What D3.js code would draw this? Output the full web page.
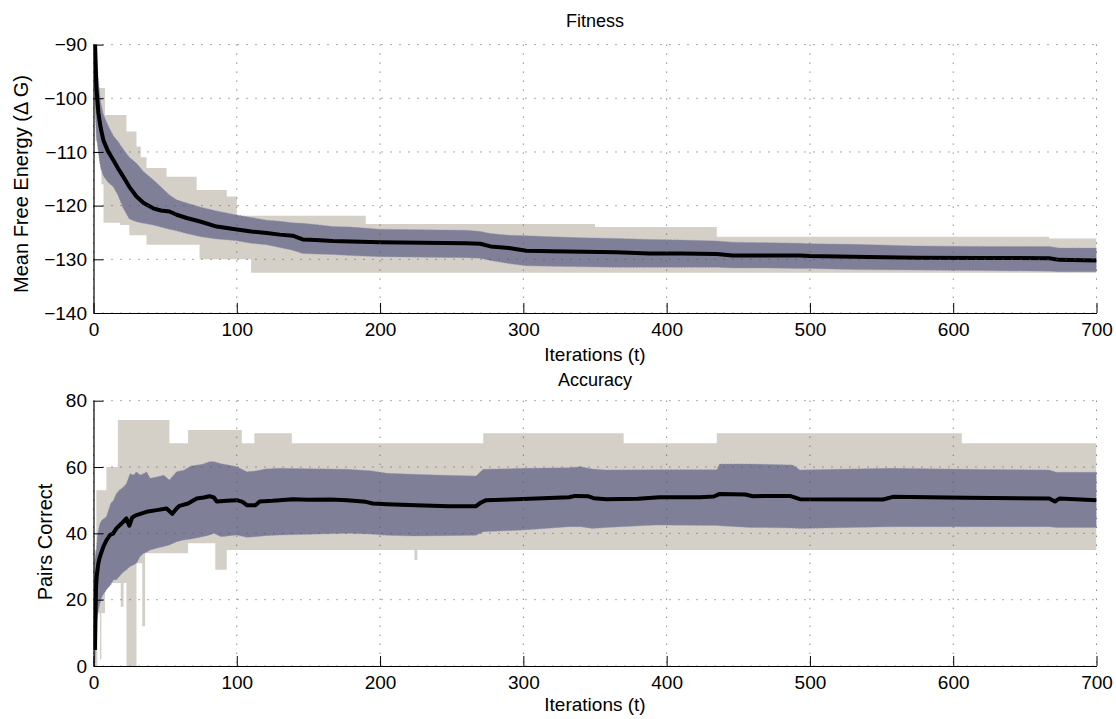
<!DOCTYPE html>
<html>
<head>
<meta charset="utf-8">
<script src="https://cdn.jsdelivr.net/npm/d3@7"></script>
<style>
  html, body { margin: 0; padding: 0; background: #fff; }
  svg { display: block; }
  text { font-family: "Liberation Sans", Arial, Helvetica, sans-serif; fill: #000; }
</style>
</head>
<body>
<svg id="chart" width="1116" height="719"></svg>
<script>
// ---------- Fitness (mean free energy) ----------
const fitIter = [1, 2, 3.4, 5, 6.9, 10, 13.8, 17, 20.8, 25, 30, 35, 41.7, 47, 53, 58, 65, 75, 86, 99,
  110, 121, 130, 139, 146, 155, 167, 180, 200, 230, 260, 270, 277, 290, 302, 320, 342, 365, 388, 410,
  435, 446, 470, 493, 500, 530, 574, 620, 667, 674, 700];
const fitMean = [-89, -98, -102.7, -105.5, -107.8, -109.8, -111.5, -113, -114.6, -116.5, -118.3, -119.5,
  -120.5, -120.9, -121.1, -121.7, -122.3, -123.0, -123.9, -124.4, -124.8, -125.1, -125.4, -125.6, -126.3,
  -126.4, -126.6, -126.7, -126.8, -126.9, -127.0, -127.1, -127.6, -127.9, -128.4, -128.5, -128.6, -128.7,
  -128.9, -128.9, -129.0, -129.3, -129.3, -129.3, -129.4, -129.5, -129.7, -129.75, -129.8, -130.1, -130.2];
const fitStdHi = [-89, -92, -96.6, -100.8, -103, -105, -107, -108, -109.5, -111, -112.1, -113.7, -115.2,
  -116.5, -118, -118.9, -119.5, -120.3, -121, -121.7, -122.2, -122.7, -122.9, -123.2, -123.3, -123.5,
  -123.9, -124.0, -124.4, -124.5, -124.6, -124.8, -125.2, -125.5, -125.6, -125.8, -126.0, -126.1, -126.3,
  -126.4, -126.6, -126.8, -126.9, -127.0, -127.1, -127.2, -127.5, -127.6, -127.6, -127.9, -127.9];
const fitStdLo = [-101, -107, -110, -113, -114.5, -115.6, -116.5, -118, -120.5, -122.5, -123, -123.3,
  -123.6, -124, -124.4, -124.7, -125.2, -125.8, -126.2, -126.5, -127, -127.3, -127.8, -128.3, -128.9,
  -129.0, -129.1, -129.3, -129.5, -129.6, -129.7, -129.8, -130.2, -130.8, -131.2, -131.3, -131.4, -131.5,
  -131.5, -131.5, -131.5, -131.6, -131.6, -131.7, -131.7, -131.9, -132.0, -132.1, -132.2, -132.3, -132.3];
// best / worst run envelopes (step changes)
const fitMaxIter = [1, 2.2, 8, 23, 30, 33, 37, 51, 72, 93, 100, 190, 350, 435, 667, 700];
const fitMax = [-89, -98.1, -103.1, -106.2, -109, -111, -113, -114.6, -117.1, -118.3, -121.9, -123.4,
  -124.0, -125.8, -126.1, -126.1];
const fitMinIter = [1, 1.5, 4, 5.5, 7, 18.5, 25, 37, 74, 110, 700];
const fitMin = [-100, -108, -112, -116, -123.2, -123.6, -125.5, -127.3, -130, -132.5, -132.5];

// ---------- Accuracy (pairs correct) ----------
const accIter = [1, 1.7, 2.2, 3.4, 4.5, 6.9, 9.2, 11.5, 13.8, 16, 20.8, 23, 25, 27, 30, 37, 44, 51, 55,
  58, 60, 66, 72, 77, 81, 84, 86, 93, 100, 104, 107, 113, 116, 125, 139, 150, 165, 177, 190, 195, 205,
  225, 248, 267, 270, 274, 295, 332, 336, 345, 349, 358, 380, 395, 423, 433, 437, 455, 460, 486, 493,
  551, 558, 609, 667, 671, 674, 689, 700];
const accMean = [4.8, 22.9, 26.9, 31, 33, 36, 38, 39.5, 40, 41.5, 43.5, 44.5, 42.3, 44.8, 45.5, 46.5,
  47, 47.5, 45.9, 47.5, 48.3, 49, 50.5, 50.8, 51.2, 50.8, 49.6, 49.8, 50, 49.5, 48.5, 48.5, 49.6, 49.8,
  50.3, 50.1, 50.2, 50, 49.5, 49, 48.8, 48.5, 48.2, 48.2, 49.2, 50, 50.3, 50.9, 51.3, 51.2, 50.6, 50.3,
  50.4, 50.9, 50.9, 51.1, 51.9, 51.7, 51.2, 51.3, 50.3, 50.2, 51.0, 50.7, 50.5, 49.6, 50.5, 50.2, 50];
const accStdIter = [0.5, 1, 2, 3, 4.5, 6, 9, 12, 14, 16, 18, 21, 23, 25.5, 28, 30, 32.5, 35, 37, 39.5,
  44, 49, 53, 58, 63, 68, 76, 81, 84, 89, 95, 100, 107, 113, 120, 130, 150, 177, 193, 205, 223, 245,
  267, 272, 300, 332, 340, 348, 358, 392, 435, 437, 458, 488, 493, 556, 609, 667, 672, 700];
const accStdHi = [25, 32, 35, 40, 43, 44, 45, 49, 50, 52, 53, 54, 55, 58, 57.6, 58.5, 57.6, 58, 58.6,
  56.6, 57, 57.5, 56.1, 58.6, 59, 60.3, 60.8, 61.6, 61.6, 61, 60.5, 60.1, 58.6, 58.8, 59.4, 59.6, 59.5,
  59.3, 58.9, 58.1, 57.8, 57.5, 57.3, 59.3, 59.6, 59.8, 60.1, 59.4, 59.1, 59.2, 59.2, 60.9, 60.9, 60.6,
  59.1, 59.6, 59.3, 59.1, 58.4, 58.4];
const accStdLo = [0, 0, 12.9, 16, 19, 21, 23, 24.5, 26, 26, 27, 28.4, 29, 30, 30.5, 31, 33, 34, 34.3,
  35, 35.5, 36, 36.5, 37.5, 38, 38.3, 39, 39.5, 40, 39, 39.3, 39.5, 38.8, 39, 39.3, 39.5, 39.7, 40, 39.8,
  39.4, 39.2, 39.3, 39.4, 40.5, 41, 42, 42, 41.5, 41.8, 42.5, 42.4, 42.3, 41.8, 41.6, 41.5, 42, 42, 42,
  41.8, 41.8];
const accMaxIter = [0.5, 2, 9, 17, 53, 66, 103.5, 112.3, 138.4, 272, 370, 435, 606, 700];
const accMax = [35, 53, 60, 74.2, 67.2, 71.2, 67.2, 70.2, 67.2, 70.2, 67.2, 70.2, 67.2, 67.2];
const accMinIter = [0.5, 2.7, 4.5, 5.5, 8, 19, 21, 23, 30, 34, 36, 66, 85, 93, 224, 226, 700];
const accMin = [0, 15.9, 2, 16, 25, 17.9, 25, 0, 31, 12, 34, 37, 29, 35, 32, 35, 35];

// ---------- axes ticks ----------
const xTicks = [0, 100, 200, 300, 400, 500, 600, 700];
const fitTicks = [-140, -130, -120, -110, -100, -90];
const accTicks = [0, 20, 40, 60, 80];

const svg = d3.select("#chart");
const GRAY = "#d4d0c8", BLUE = "#7f7f98";
const left = 93.5, right = 1096.5;

function zip(xs, ys) { return xs.map((x, i) => [x, ys[i]]); }

function panel(cfg) {
  const x = d3.scaleLinear().domain([0, 700]).range([left, right]);
  const y = d3.scaleLinear().domain(cfg.yDomain).range([cfg.bottom, cfg.top]);
  const g = svg.append("g");
  const clipId = "clip-" + cfg.id;
  svg.append("clipPath").attr("id", clipId).append("rect")
    .attr("x", left).attr("y", cfg.top).attr("width", right - left).attr("height", cfg.bottom - cfg.top);
  const plot = g.append("g").attr("clip-path", `url(#${clipId})`);

  // min/max envelope: build upper and lower step lines on a shared x grid
  const stepVal = (xs, ys, t) => { let v = ys[0]; for (let i = 0; i < xs.length; i++) if (xs[i] <= t) v = ys[i]; return v; };
  const envX = Array.from(new Set([...cfg.maxIter, ...cfg.minIter])).sort((a, b) => a - b);
  const envPts = [];
  envX.forEach((t, i) => {
    if (i > 0) envPts.push({ t, hi: stepVal(cfg.maxIter, cfg.max, envX[i - 1]), lo: stepVal(cfg.minIter, cfg.min, envX[i - 1]) });
    envPts.push({ t, hi: stepVal(cfg.maxIter, cfg.max, t), lo: stepVal(cfg.minIter, cfg.min, t) });
  });
  plot.append("path").datum(envPts)
    .attr("fill", GRAY)
    .attr("d", d3.area().x(d => x(d.t)).y0(d => y(d.lo)).y1(d => y(d.hi)));

  // standard deviation band
  const band = cfg.stdIter.map((t, i) => ({ t, hi: cfg.stdHi[i], lo: cfg.stdLo[i] }));
  plot.append("path").datum(band)
    .attr("fill", BLUE)
    .attr("stroke", "#9292aa").attr("stroke-width", 0.8).attr("stroke-dasharray", "1.5,1.5")
    .attr("d", d3.area().x(d => x(d.t)).y0(d => y(d.lo)).y1(d => y(d.hi)));

  // dotted grid
  const grid = g.append("g").attr("stroke", "#555").attr("stroke-width", 1).attr("stroke-dasharray", "1,8");
  xTicks.forEach(t => grid.append("line").attr("x1", x(t)).attr("x2", x(t)).attr("y1", cfg.top).attr("y2", cfg.bottom));
  cfg.ticks.forEach(t => grid.append("line").attr("x1", left).attr("x2", right).attr("y1", y(t)).attr("y2", y(t)));

  // mean curve
  plot.append("path").datum(zip(cfg.meanIter, cfg.mean))
    .attr("fill", "none").attr("stroke", "#000").attr("stroke-width", 4).attr("stroke-linejoin", "round")
    .attr("d", d3.line().x(d => x(d[0])).y(d => y(d[1])));

  // axes
  const xa = g.append("g").attr("transform", `translate(0,${cfg.bottom})`)
    .call(d3.axisBottom(x).tickValues(xTicks).tickSizeInner(-10).tickSizeOuter(0).tickPadding(10));
  const ya = g.append("g").attr("transform", `translate(${left},0)`)
    .call(d3.axisLeft(y).tickValues(cfg.ticks).tickSizeInner(-10).tickSizeOuter(0).tickPadding(6.5)
      .tickFormat(d => d < 0 ? "\u2212" + Math.abs(d) : d));
  [xa, ya].forEach(a => {
    a.selectAll("path.domain").attr("stroke", "#000").attr("stroke-width", 1.2);
    a.selectAll(".tick line").attr("stroke", "#000").attr("stroke-width", 1);
    a.selectAll(".tick text").attr("font-size", 19).attr("font-family", "Liberation Sans, Arial, sans-serif").attr("fill", "#000");
  });

  g.append("text").attr("x", (left + right) / 2).attr("y", cfg.titleY)
    .attr("text-anchor", "middle").attr("font-size", 18).text(cfg.title);
  g.append("text").attr("x", (left + right) / 2).attr("y", cfg.xLabelY)
    .attr("text-anchor", "middle").attr("font-size", 19).text("Iterations (t)");
  g.append("text").attr("transform", `translate(${cfg.yLabelX},${cfg.yLabelCy}) rotate(-90)`)
    .attr("text-anchor", "middle").attr("font-size", 20).text(cfg.yLabel);
}

panel({
  id: "fit", top: 44.6, bottom: 313, yDomain: [-140, -90], ticks: fitTicks,
  meanIter: fitIter, mean: fitMean, stdIter: fitIter, stdHi: fitStdHi, stdLo: fitStdLo,
  maxIter: fitMaxIter, max: fitMax, minIter: fitMinIter, min: fitMin,
  title: "Fitness", titleY: 27, xLabelY: 361, yLabel: "Mean Free Energy (\u0394 G)", yLabelX: 28, yLabelCy: 184
});
panel({
  id: "acc", top: 400.7, bottom: 666, yDomain: [0, 80], ticks: accTicks,
  meanIter: accIter, mean: accMean, stdIter: accStdIter, stdHi: accStdHi, stdLo: accStdLo,
  maxIter: accMaxIter, max: accMax, minIter: accMinIter, min: accMin,
  title: "Accuracy", titleY: 386, xLabelY: 711, yLabel: "Pairs Correct", yLabelX: 51.5, yLabelCy: 542
});
</script>
</body>
</html>
